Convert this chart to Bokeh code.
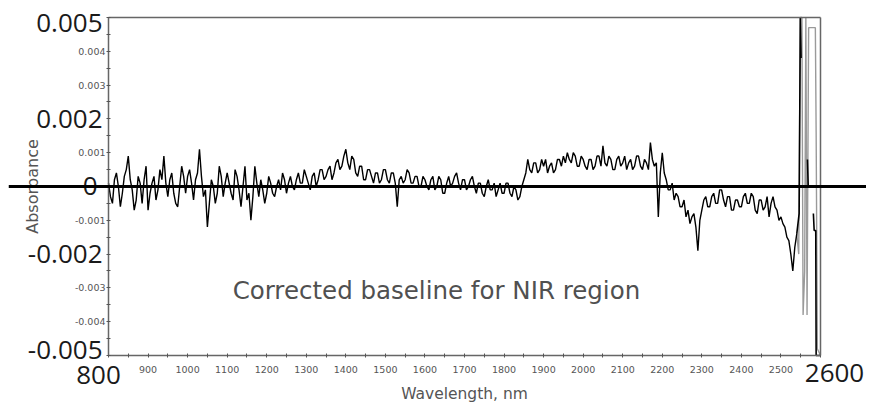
from bokeh.plotting import figure
from bokeh.models import FixedTicker, Label, Span, Range1d, LinearAxis
from bokeh.embed import file_html
from bokeh.resources import INLINE

# ---------------- data (absorbance in units of 1e-4) ----------------
wavelength_main = list(range(800, 2545, 5))
absorbance_main_e4 = [
    1, -3, -5, 2, 4, 0, -6, -2, 3, 5,
    9, 2, -1, -7, -4, 3, 1, -5, 2, 6,
    -7, -2, 1, 3, -4, -1, 5, 2, 9, 1,
    -3, 2, 4, -2, -5, -6, 0, 6, 3, -2,
    3, 5, 1, -4, 2, 4, 11, 3, -3, -1,
    -12, -5, 2, 0, -5, -2, 6, 3, -3, 1,
    4, 1, -2, -4, 5, 3, -1, -6, 0, 6,
    -4, -2, -10, -3, 6, 1, -3, 2, -1, -5,
    -2, 3, 1, -2, -3, 0, 2, -1, 4, 2,
    -2, 1, 3, 0, -1, 2, 4, 1, 1, 5,
    3, 1, -1, 3, 4, 0, 2, 5, 5, 2,
    3, 5, 6, 2, 4, 7, 8, 5, 6, 9,
    11, 7, 5, 9, 8, 4, 3, 6, 6, 2,
    2, 5, 5, 3, 1, 4, 4, 1, 2, 5,
    5, 2, 1, 4, 4, 1, -6, 2, 3, 1,
    2, 5, 4, 1, 1, 3, 3, 0, 0, 3,
    2, 0, -1, 2, 3, -1, 0, 3, 2, -2,
    -2, 1, 3, 0, 1, 3, 4, 1, -1, 2,
    2, -1, 0, 2, 3, 0, -2, 1, 1, -2,
    -3, 0, 2, -1, -1, 1, -3, -1, 1, -2,
    -2, 1, 1, -2, -3, 0, -1, -4, -3, 0,
    2, 4, 8, 5, 4, 7, 7, 4, 5, 8,
    6, 8, 4, 6, 7, 4, 5, 8, 8, 6,
    9, 7, 10, 8, 7, 10, 9, 6, 6, 9,
    8, 6, 5, 8, 8, 5, 6, 9, 9, 6,
    12, 7, 6, 9, 8, 5, 5, 8, 9, 6,
    7, 9, 5, 7, 8, 5, 6, 9, 9, 6,
    5, 8, 7, 5, 13, 8, 6, 7, -9, 4,
    10, 4, 2, -1, -1, 1, -4, -2, -3, -6,
    -6, -4, -9, -7, -11, -9, -8, -12, -19, -10,
    -7, -4, -3, -6, -6, -3, -2, -5, -5, -1,
    -1, -4, -6, -3, -3, -7, -7, -4, -4, -6,
    -6, -3, -2, -5, -5, -2, -3, -7, -8, -4,
    -4, -7, -6, -3, -9, -5, -3, -6, -7, -10,
    -9, -11, -12, -15, -16, -20, -25, -18, -14,
]
nan = float("nan")
wavelength_tail_black = [2540, 2546, 2549, 2551, 2552, 2567, 2569, 2570, 2582, 2584, 2588, 2589, 2600]
absorbance_tail_black_e4 = [-14, -8, 50, 38, nan, 8, 0, nan, -8, -13, -13, -50, -50]
wavelength_tail_grey = [2540, 2545, 2549, 2553, 2556, 2560, 2563, 2566, 2570, 2587, 2589, 2592, 2600]
absorbance_tail_grey_e4 = [-14, -20, 50, 50, -38, -25, 50, -38, 47, 47, 16, -48, -50]

y_ticks = [-0.005, -0.004, -0.003, -0.002, -0.001, 0, 0.001, 0.002, 0.003, 0.004, 0.005]
y_small_labels = ["", "-0.004", "-0.003", "", "-0.001", "", "0.001", "", "0.003", "0.004", ""]
y_big_ticks = [0.005, 0.002, 0, -0.002, -0.005]
y_big_labels = ["0.005", "0.002", "0", "-0.002", "-0.005"]
x_ticks = list(range(800, 2700, 100))
x_minor_ticks = list(range(850, 2600, 100))
x_big_ticks = [800, 2600]
x_big_labels = ["800", "2600"]

def scale(v):
    return [a * 1e-4 for a in v]

# ---------------- figure ----------------
X0, X1 = 800, 2600
Y0, Y1 = -0.005, 0.005
p = figure(width=866, height=402, output_backend="svg", toolbar_location=None,
           x_range=Range1d(547.19, 2716.3), y_range=Range1d(-0.006391, 0.005503),
           x_axis_location=None, y_axis_location=None,
           min_border=0, min_border_left=8,
           background_fill_color="white", border_fill_color="white")
p.xgrid.grid_line_color = None
p.ygrid.grid_line_color = None
p.outline_line_color = None

p.line(wavelength_tail_grey, scale(absorbance_tail_grey_e4), line_color="#9a9a9a", line_width=1.4)
p.line(wavelength_main, scale(absorbance_main_e4), line_color="black", line_width=1.4)
p.line(wavelength_tail_black, scale(absorbance_tail_black_e4), line_color="black", line_width=1.6)


def style(ax):
    ax.axis_line_color = "#666666"
    ax.axis_line_width = 1.5
    ax.major_tick_line_color = "#555555"
    ax.minor_tick_line_color = "#555555"
    ax.major_tick_in = 2
    ax.major_tick_out = 2
    ax.minor_tick_in = 2
    ax.minor_tick_out = 2
    ax.major_label_text_font = "DejaVu Sans"
    ax.major_label_text_font_size = "9.5px"
    ax.major_label_text_color = "#555555"
    ax.axis_label_text_font = "DejaVu Sans"
    ax.axis_label_text_font_style = "normal"
    ax.axis_label_text_color = "#555555"


yax = LinearAxis(fixed_location=X0, bounds=(Y0, Y1), axis_label="Absorbance",
                 ticker=FixedTicker(ticks=y_ticks, minor_ticks=[t + 0.0005 for t in y_ticks[:-1]]))
style(yax)
yax.major_label_overrides = {t: l for t, l in zip(y_ticks, y_small_labels)}
yax.major_label_standoff = 1
yax.axis_label_standoff = 30
yax.axis_label_text_font_size = "16px"
p.add_layout(yax, "left")

xax = LinearAxis(fixed_location=Y0, bounds=(X0, X1), axis_label="Wavelength, nm",
                 ticker=FixedTicker(ticks=x_ticks, minor_ticks=x_minor_ticks))
style(xax)
xax.major_label_overrides = {t: ("" if t in x_big_ticks else str(t)) for t in x_ticks}
xax.major_label_standoff = 9
xax.axis_label_standoff = 8
xax.axis_label_text_font_size = "15.5px"
p.add_layout(xax, "below")

for loc, rng, side in ((X1, (Y0, Y1), "right"), (Y1, (X0, X1), "above")):
    ax = LinearAxis(fixed_location=loc, bounds=rng, ticker=FixedTicker(ticks=[]))
    ax.axis_line_color = "#666666"
    ax.axis_line_width = 1.5
    ax.major_tick_line_color = None
    ax.minor_tick_line_color = None
    ax.major_label_text_font_size = "0px"
    p.add_layout(ax, side)

# large overlaid tick labels
for v, t in zip(y_big_ticks, y_big_labels):
    off = -5 if v == Y1 else (5 if v == Y0 else 0)
    dx = -11 if v == 0 else -6
    p.add_layout(Label(x=X0, y=v, x_offset=dx, y_offset=off, text=t, text_align="right",
                       text_baseline="middle", text_font="Open Sans", text_font_size="26px",
                       text_color="#1a1a1a"))
for v, t, dx, dy in zip(x_big_ticks, x_big_labels, [-10, 14], [-20, -18]):
    p.add_layout(Label(x=v, y=Y0, x_offset=dx, y_offset=dy, text=t, text_align="center",
                       text_baseline="middle", text_font="Open Sans", text_font_size="26px",
                       text_color="#1a1a1a"))

# zero baseline across the whole picture
p.add_layout(Span(location=0, dimension="width", line_color="black", line_width=3))

p.add_layout(Label(x=1629, y=-0.00308, text="Corrected baseline for NIR region",
                   text_align="center", text_baseline="middle", text_font="DejaVu Sans",
                   text_font_size="24.5px", text_color="#505050"))

open("out.html", "w").write(file_html(p, INLINE))
